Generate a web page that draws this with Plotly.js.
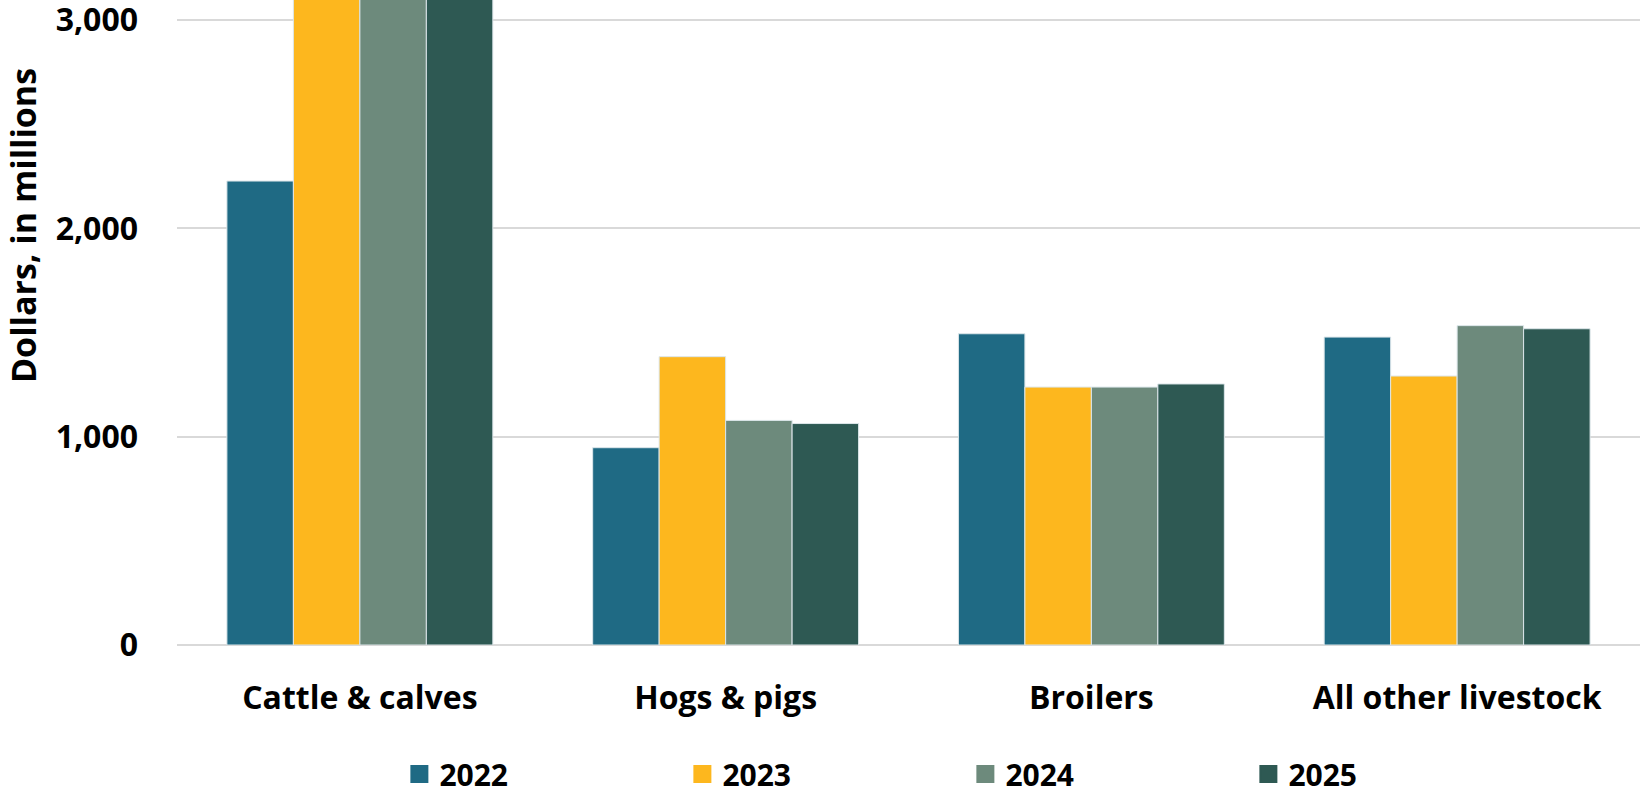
<!DOCTYPE html>
<html>
<head>
<meta charset="utf-8">
<script src="https://cdn.plot.ly/plotly-3.0.1.min.js"></script>
<style>
html,body{margin:0;padding:0;background:#fff;}
#chart{width:1640px;height:794px;}
</style>
</head>
<body>
<div id="chart"></div>
<script>
const categories = ["Cattle & calves", "Hogs & pigs", "Broilers", "All other livestock"];
const years = ["2022", "2023", "2024", "2025"];
const values2022 = [2227, 947, 1494, 1478];
const values2023 = [3350, 1384, 1238, 1291];
const values2024 = [3600, 1078, 1238, 1533];
const values2025 = [3650, 1063, 1253, 1518];
const colors = ["#1F6A84", "#FDB71E", "#6D8A7C", "#2E5953"];
const yTicks = [0, 1000, 2000, 3000];
const yTitle = "Dollars, in millions";

const series = [values2022, values2023, values2024, values2025];
const FONT = "'Open Sans', 'Noto Sans', sans-serif";

const traces = series.map((vals, i) => ({
  type: "bar",
  name: years[i],
  x: categories,
  y: vals,
  marker: {color: colors[i], line: {color: "#dce6ea", width: 1}},
  showlegend: false,
  hoverinfo: "x+y+name"
}));
// legend entries with larger square swatches
years.forEach((yr, i) => {
  traces.push({
    type: "scatter",
    mode: "markers",
    name: yr,
    x: [null],
    y: [null],
    marker: {symbol: "square", size: 16, color: colors[i], line: {color: colors[i], width: 2}},
    showlegend: true,
    hoverinfo: "skip"
  });
});

const layout = {
  width: 1640,
  height: 794,
  margin: {l: 177, r: 0, t: 0, b: 149, autoexpand: false},
  paper_bgcolor: "#fff",
  plot_bgcolor: "#fff",
  barmode: "group",
  bargap: 0.273,
  bargroupgap: 0,
  font: {family: FONT, color: "#000", size: 32, weight: 700},
  xaxis: {
    type: "category",
    showline: false,
    showgrid: false,
    zeroline: false,
    ticks: "",
    ticklabelstandoff: 31,
    tickfont: {family: FONT, size: 32, weight: 700, color: "#000"}
  },
  yaxis: {
    range: [0, 3096],
    tickvals: yTicks,
    tickformat: ",d",
    showgrid: true,
    gridcolor: "#d9d9d9",
    gridwidth: 2,
    zeroline: true,
    zerolinecolor: "#d9d9d9",
    zerolinewidth: 2,
    showline: false,
    ticks: "",
    ticklabelstandoff: 38,
    ticklabeloverflow: "allow",
    tickfont: {family: FONT, size: 32, weight: 700, color: "#000"}
  },
  annotations: [{
    text: yTitle,
    xref: "paper", yref: "paper",
    x: -0.1053, y: 0.651,
    xanchor: "center", yanchor: "middle",
    textangle: -90,
    showarrow: false,
    font: {family: FONT, size: 34, weight: 700, color: "#000"}
  }],
  showlegend: true,
  legend: {
    orientation: "h",
    x: 0.152,
    xanchor: "left",
    y: -0.2,
    yanchor: "middle",
    entrywidth: 238,
    entrywidthmode: "pixels",
    font: {family: FONT, size: 30, weight: 700, color: "#000"},
    bgcolor: "rgba(0,0,0,0)"
  }
};

Plotly.newPlot("chart", traces, layout, {displayModeBar: false, staticPlot: true});
</script>
</body>
</html>
